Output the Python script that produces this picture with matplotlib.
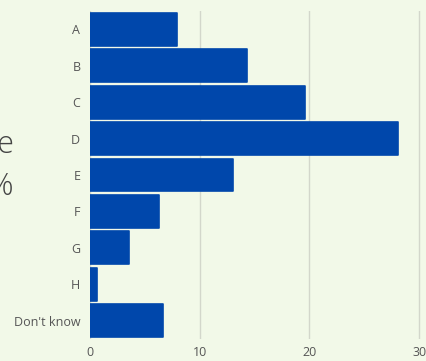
import matplotlib
matplotlib.use("Agg")
import matplotlib.pyplot as plt

categories = ["A", "B", "C", "D", "E", "F", "G", "H", "Don't know"]
values = [7.9, 14.3, 19.6, 28.1, 13.0, 6.3, 3.6, 0.65, 6.7]
x_ticks = [0, 10, 20, 30]

BG = "#f2f9e8"
BAR = "#0047ab"
TXT = "#555555"
GRID = "#d3d7cb"

plt.rcParams["font.family"] = ["Open Sans", "DejaVu Sans"]

fig = plt.figure(figsize=(4.27, 3.61), dpi=100, facecolor=BG)
ax = fig.add_axes([90 / 427, 1 - 339 / 361, 337 / 427, 328 / 361], facecolor=BG)

pos = list(range(len(categories)))
ax.barh(pos, values, height=0.9, color=BAR, edgecolor=BAR, linewidth=1.2,
        joinstyle="round", zorder=3)

ax.set_ylim(len(categories) - 0.5, -0.5)
ax.set_xlim(0, 30.72)
ax.set_yticks(pos)
ax.set_yticklabels(categories)
ax.set_xticks(x_ticks)
ax.set_xticklabels([str(t) for t in x_ticks])

ax.grid(axis="x", color=GRID, linewidth=1.0, zorder=0)
ax.grid(axis="y", visible=False)
for s in ax.spines.values():
    s.set_visible(False)
ax.tick_params(axis="both", length=0, labelsize=9, colors=TXT)
ax.tick_params(axis="y", pad=7)
ax.tick_params(axis="x", pad=5)

# Side annotation, partly running off the left edge
fig.text(14 / 427, 1 - 166 / 361, "Average\n11%", ha="right", va="center",
         fontsize=22, color="#444444", fontweight="light", linespacing=1.38)

fig.savefig("out.png", dpi=100, facecolor=BG)
